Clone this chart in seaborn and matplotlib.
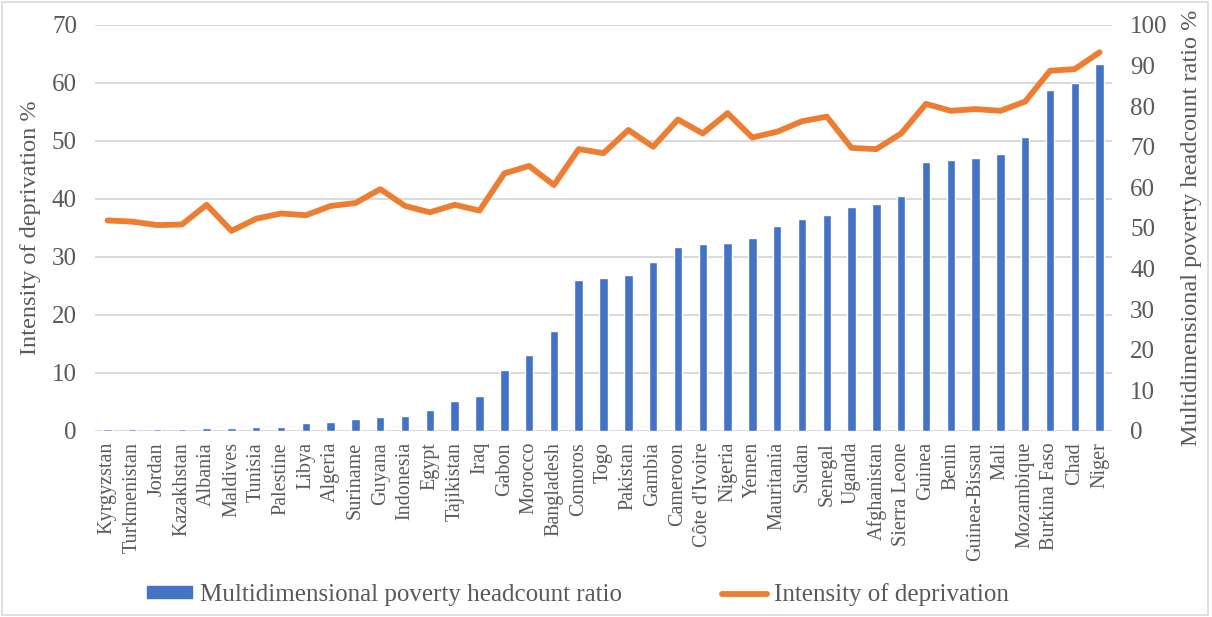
import numpy as np
import pandas as pd
import matplotlib
matplotlib.use("Agg")
import matplotlib.pyplot as plt
import seaborn as sns
from matplotlib.patches import Rectangle

countries = ["Kyrgyzstan", "Turkmenistan", "Jordan", "Kazakhstan", "Albania", "Maldives",
             "Tunisia", "Palestine", "Libya", "Algeria", "Suriname", "Guyana", "Indonesia",
             "Egypt", "Tajikistan", "Iraq", "Gabon", "Morocco", "Bangladesh", "Comoros", "Togo",
             "Pakistan", "Gambia", "Cameroon", "Côte d'Ivoire", "Nigeria", "Yemen", "Mauritania",
             "Sudan", "Senegal", "Uganda", "Afghanistan", "Sierra Leone", "Guinea", "Benin",
             "Guinea-Bissau", "Mali", "Mozambique", "Burkina Faso", "Chad", "Niger"]

# headcount ratio % (right axis, bars)
headcount = [0.4, 0.4, 0.4, 0.5, 0.7, 0.8, 0.9, 1.0, 2.0, 2.1, 2.9, 3.4, 3.6,
             5.2, 7.4, 8.6, 14.9, 18.6, 24.6, 37.3, 37.6, 38.3, 41.6, 45.3, 46.1, 46.4,
             47.6, 50.6, 52.3, 53.2, 55.1, 55.9, 57.9, 66.2, 66.8, 67.3, 68.3, 72.5,
             83.9, 85.7, 90.5]

# intensity of deprivation % (left axis, line)
intensity = [36.3, 36.1, 35.5, 35.6, 39.0, 34.5, 36.6, 37.5, 37.2, 38.8, 39.3, 41.7,
             38.8, 37.7, 39.0, 38.0, 44.4, 45.7, 42.4, 48.6, 47.9, 51.9, 49.0, 53.7,
             51.3, 54.8, 50.6, 51.6, 53.4, 54.2, 48.8, 48.6, 51.3, 56.4, 55.2, 55.5,
             55.2, 56.8, 62.1, 62.4, 65.3]

df = pd.DataFrame({"country": countries, "headcount": headcount, "intensity": intensity})
df["pos"] = np.arange(len(df))

sns.set_theme(style="white")
plt.rcParams["font.family"] = ["Liberation Serif", "DejaVu Serif"]
txt = "#595959"
blue = "#4472C4"
orange = "#ED7D31"
grid = "#D9D9D9"

fig, ax_bar = plt.subplots(figsize=(12.12, 6.17), dpi=100)
fig.subplots_adjust(left=0.0784, right=0.9175, bottom=0.3015, top=0.9595)
ax_line = ax_bar.twinx()

# bars on the right scale
sns.barplot(data=df, x="country", y="headcount", ax=ax_bar, color=blue,
            saturation=1, width=0.34, zorder=2)
ax_bar.yaxis.tick_right()
ax_bar.yaxis.set_label_position("right")
ax_bar.set_ylim(0, 100)
ax_bar.set_yticks(np.arange(0, 101, 10))
ax_bar.set_ylabel("Multidimensional poverty headcount ratio %", fontsize=17.5,
                  color=txt, labelpad=10)
ax_bar.set_xlabel("")

# gridlines follow the left (0-70) scale
for v in np.arange(0, 71, 10):
    ax_bar.axhline(v * 100 / 70, color=grid, lw=1.4, zorder=0)

# line on the left scale
sns.lineplot(data=df, x="pos", y="intensity", ax=ax_line, color=orange, lw=4.2)
ax_line.yaxis.tick_left()
ax_line.yaxis.set_label_position("left")
ax_line.set_ylim(0, 70)
ax_line.set_yticks(np.arange(0, 71, 10))
ax_line.set_ylabel("Intensity of deprivation %", fontsize=17.5, color=txt, labelpad=8)
ax_line.set_xlabel("")

ax_bar.set_xlim(-0.5, len(df) - 0.5)
ax_bar.set_xticks(df["pos"])
ax_bar.set_xticklabels(countries, rotation=90, fontsize=14.5, color=txt)

for a in (ax_bar, ax_line):
    for s in a.spines.values():
        s.set_visible(False)
    a.tick_params(axis="y", length=0, labelsize=18, labelcolor=txt, pad=13)
    a.tick_params(axis="x", length=0, pad=8)

handles = [Rectangle((0, 0), 1, 1, color=blue),
           plt.Line2D([0], [0], color=orange, lw=4.2, solid_capstyle="round")]
labels = ["Multidimensional poverty headcount ratio", "Intensity of deprivation"]
fig.legend(handles, labels, loc="center", bbox_to_anchor=(0.477, 0.036), ncol=2,
           frameon=False, fontsize=18, labelcolor=txt, handlelength=1.8,
           handleheight=0.35, columnspacing=4.0, handletextpad=0.3)

fig.patches.append(Rectangle((0.002, 0.004), 0.995, 0.992, transform=fig.transFigure,
                             fill=False, edgecolor=grid, lw=1.2))

fig.savefig("out.png", dpi=100)
